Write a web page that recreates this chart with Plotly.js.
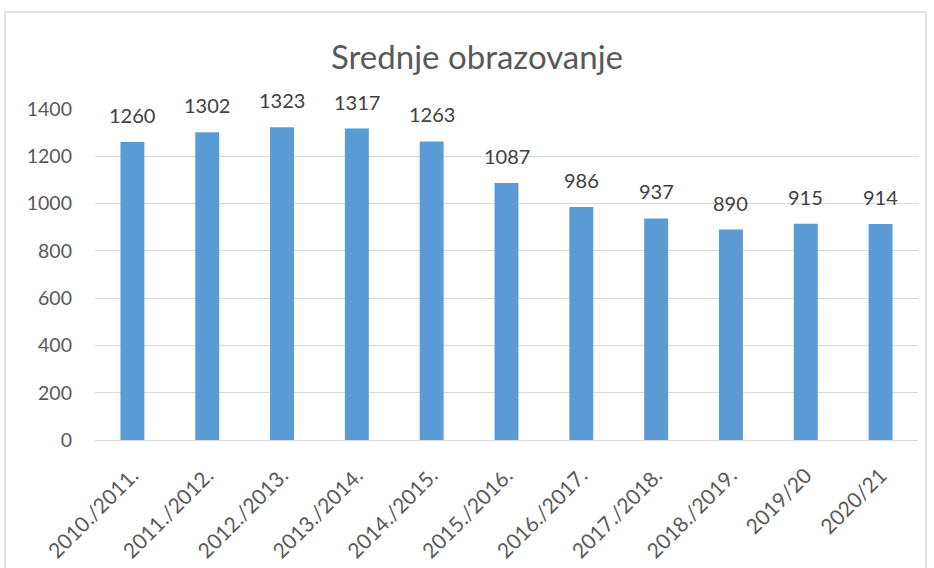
<!DOCTYPE html>
<html><head><meta charset="utf-8">
<script src="https://cdn.plot.ly/plotly-3.0.1.min.js"></script>
<style>html,body{margin:0;padding:0;background:#fff}#c{width:934px;height:568px}</style>
</head><body><div id="c"></div>
<script>
const categories = ["2010./2011.","2011./2012.","2012./2013.","2013./2014.","2014./2015.","2015./2016.","2016./2017.","2017./2018.","2018./2019.","2019/20","2020/21"];
const values = [1260,1302,1323,1317,1263,1087,986,937,890,915,914];
const yTicks = [0,200,400,600,800,1000,1200,1400];

const W=934,H=568,L=95,R=16,T=109,B=128;
const pw=W-L-R, ph=H-T-B;
const px = v => (v-L)/pw;
const py = v => 1-(v-T)/ph;
const FONT = 'Lato, "Open Sans", sans-serif';

Plotly.newPlot('c',[{
  type:'bar', x:categories, y:values,
  marker:{color:'#5B9BD5'},
  hoverinfo:'none'
}],{
  width:W,height:H,
  margin:{l:L,r:R,t:T,b:B},
  paper_bgcolor:'#fff',plot_bgcolor:'#fff',
  bargap:0.68,
  showlegend:false,
  title:{text:'Srednje obrazovanje',x:477/W,xref:'container',xanchor:'center',y:1-57/H,yref:'container',yanchor:'middle',
    font:{family:FONT,size:33,color:'#595959'}},
  xaxis:{tickangle:-45,showgrid:false,showline:true,linecolor:'#d9d9d9',ticks:'',automargin:false,
    ticklabelstandoff:14,
    tickfont:{family:FONT,size:21,color:'#595959'}},
  yaxis:{range:[0,1400],tickvals:yTicks,showgrid:true,gridcolor:'#d9d9d9',zeroline:false,showline:false,ticks:'',
    ticklabelstandoff:22,automargin:false,
    tickfont:{family:FONT,size:19.5,color:'#595959'}},
  annotations: categories.map((c,i)=>({x:c,y:values[i],xref:'x',yref:'y',text:String(values[i]),showarrow:false,
    yanchor:'bottom',yshift:13,font:{family:FONT,size:20,color:'#404040'}})),
  shapes:[{type:'rect',xref:'paper',yref:'paper',x0:px(5),x1:px(926),y0:py(600),y1:py(12),
    line:{color:'#d9d9d9',width:1.5},fillcolor:'rgba(0,0,0,0)',layer:'below'}]
},{staticPlot:true});
</script></body></html>
